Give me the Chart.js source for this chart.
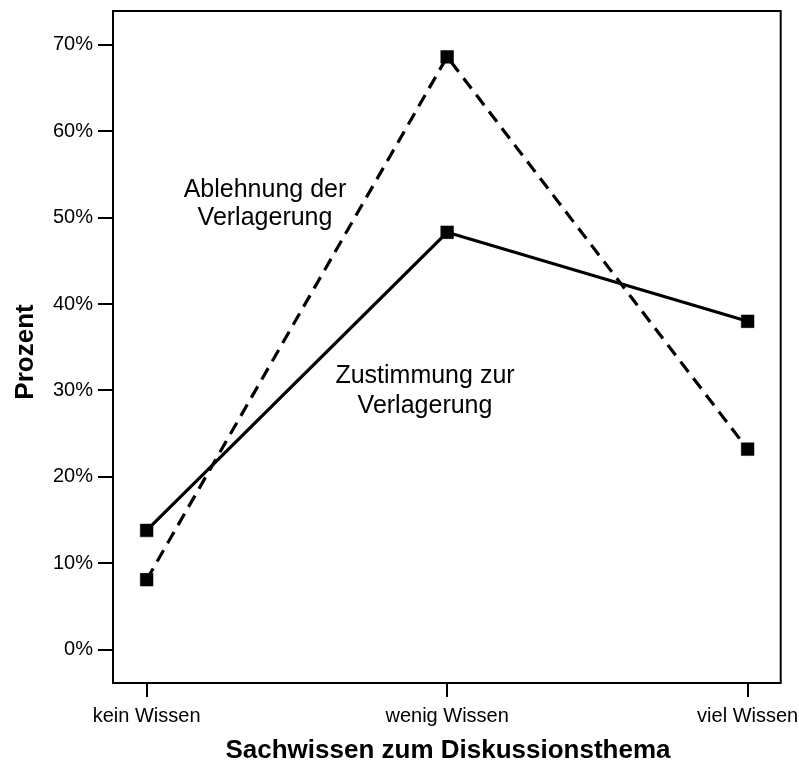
<!DOCTYPE html>
<html>
<head>
<meta charset="utf-8">
<script src="https://cdn.jsdelivr.net/npm/chart.js@4"></script>
<style>
  html, body { margin: 0; padding: 0; background: #fff; }
  #wrap { width: 799px; height: 762px; position: relative; }
</style>
</head>
<body>
<div id="wrap"><canvas id="c"></canvas></div>
<script>
const categories = ['kein Wissen', 'wenig Wissen', 'viel Wissen'];
const zustimmung = [13.8, 48.3, 38.0];
const ablehnung = [8.1, 68.6, 23.2];
const yTickValues = [0, 10, 20, 30, 40, 50, 60, 70];
const yAxisTitle = 'Prozent';
const xAxisTitle = 'Sachwissen zum Diskussionsthema';
const labelAblehnung = ['Ablehnung der', 'Verlagerung'];
const labelZustimmung = ['Zustimmung zur', 'Verlagerung'];

const FONT = '"Liberation Sans", Arial, Helvetica, sans-serif';

const toPoints = arr => arr.map((v, i) => ({ x: i, y: v }));

const extras = {
  id: 'extras',
  afterDraw(chart) {
    const { ctx, chartArea: a } = chart;
    ctx.save();
    ctx.strokeStyle = '#000';
    ctx.lineWidth = 2;
    ctx.strokeRect(a.left, a.top, a.right - a.left, a.bottom - a.top);
    ctx.fillStyle = '#000';
    ctx.font = '25px ' + FONT;
    ctx.textAlign = 'center';
    ctx.textBaseline = 'alphabetic';
    ctx.fillText(labelAblehnung[0], 265, 197);
    ctx.fillText(labelAblehnung[1], 265, 225);
    ctx.fillText(labelZustimmung[0], 425, 383);
    ctx.fillText(labelZustimmung[1], 425, 413);
    ctx.font = 'bold 26px ' + FONT;
    ctx.fillText(xAxisTitle, 448, 758);
    ctx.translate(33, 352);
    ctx.rotate(-Math.PI / 2);
    ctx.fillText(yAxisTitle, 0, 0);
    ctx.restore();
  }
};

const common = {
  borderColor: '#000',
  backgroundColor: '#000',
  borderWidth: 3.2,
  pointStyle: 'rect',
  pointRadius: 9,
  pointHoverRadius: 9,
  pointBackgroundColor: '#000',
  pointBorderColor: '#000',
  pointBorderWidth: 0.5,
  tension: 0,
  fill: false
};

new Chart(document.getElementById('c'), {
  type: 'line',
  data: {
    datasets: [
      Object.assign({ label: 'Zustimmung zur Verlagerung', data: toPoints(zustimmung) }, common),
      Object.assign({ label: 'Ablehnung der Verlagerung', data: toPoints(ablehnung), borderDash: [13, 8] }, common)
    ]
  },
  options: {
    responsive: true,
    maintainAspectRatio: false,
    animation: false,
    events: [],
    layout: { padding: { left: 0, top: 11, right: 18.3, bottom: 0 } },
    plugins: {
      legend: { display: false },
      tooltip: { enabled: false },
      title: { display: false }
    },
    scales: {
      x: {
        type: 'linear',
        min: -0.112,
        max: 2.11,
        afterBuildTicks: s => { s.ticks = categories.map((c, i) => ({ value: i })); },
        afterFit: s => { s.height = 79; s.paddingLeft = 0; s.paddingRight = 0; },
        border: { display: false },
        grid: {
          drawOnChartArea: false,
          drawTicks: true,
          tickLength: 14,
          color: '#000',
          lineWidth: 2
        },
        ticks: {
          callback: v => categories[v] ?? '',
          color: '#000',
          font: { family: FONT, size: 20 },
          padding: 7,
          maxRotation: 0,
          autoSkip: false
        }
      },
      y: {
        type: 'linear',
        min: -3.85,
        max: 73.9,
        afterBuildTicks: s => { s.ticks = yTickValues.map(v => ({ value: v })); },
        afterFit: s => { s.width = 113; s.paddingTop = 0; s.paddingBottom = 0; },
        border: { display: false },
        grid: {
          drawOnChartArea: false,
          drawTicks: true,
          tickLength: 15,
          color: '#000',
          lineWidth: 2
        },
        ticks: {
          callback: v => v + '%',
          color: '#000',
          font: { family: FONT, size: 20 },
          padding: 5
        }
      }
    }
  },
  plugins: [extras]
});
</script>
</body>
</html>
